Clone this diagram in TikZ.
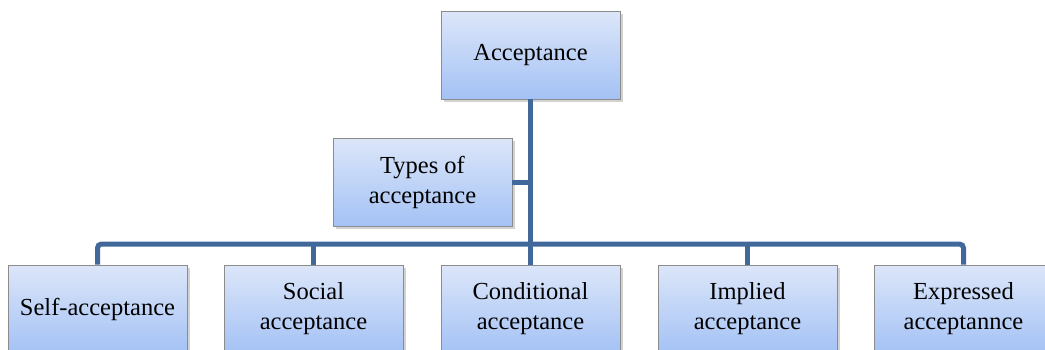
\documentclass[tikz,border=0pt]{standalone}
\usepackage{fontspec}
\setmainfont{Liberation Serif}
\usetikzlibrary{shadows}
\definecolor{boxtop}{HTML}{DCE6F9}
\definecolor{boxbot}{HTML}{A4C2F5}
\definecolor{linkblue}{HTML}{41689A}
\tikzset{
  tbox/.style={draw=black!45,line width=0.8pt,top color=boxtop,bottom color=boxbot,
    minimum width=179pt,minimum height=88pt,align=center,inner sep=2pt,
    font=\fontsize{24.5}{30}\selectfont,
    drop shadow={shadow xshift=2.5pt,shadow yshift=-2.5pt,fill=black!35}},
  link/.style={linkblue,line width=5pt}
}
\begin{document}
\begin{tikzpicture}[x=1pt,y=1pt]
   \clip (0,0) rectangle (1045,-349);
   \node [tbox] (acc) at (530.5,-55) {Acceptance};
   \node [tbox] (types) at (422.5,-182) {Types of\\acceptance};
   \node [tbox] (self) at (97.5,-309) {Self-acceptance};
   \node [tbox] (social) at (313.5,-309) {Social\\acceptance};
   \node [tbox] (cond) at (530.5,-309) {Conditional\\acceptance};
   \node [tbox] (impl) at (747.5,-309) {Implied\\acceptance};
   \node [tbox] (expr) at (963.5,-309) {Expressed\\acceptannce};
   \coordinate (bar) at (530.5,-244);
   \draw [link,rounded corners=4pt] (self.north) |- (bar) -| (expr.north);
   \draw [link] (acc.south) -- (acc.south |- bar);
   \draw [link] (social.north) -- (social.north |- bar);
   \draw [link] (cond.north) -- (cond.north |- bar);
   \draw [link] (impl.north) -- (impl.north |- bar);
   \draw [link] (types.east) -- (types.east -| acc.south);
\end{tikzpicture}
\end{document}
